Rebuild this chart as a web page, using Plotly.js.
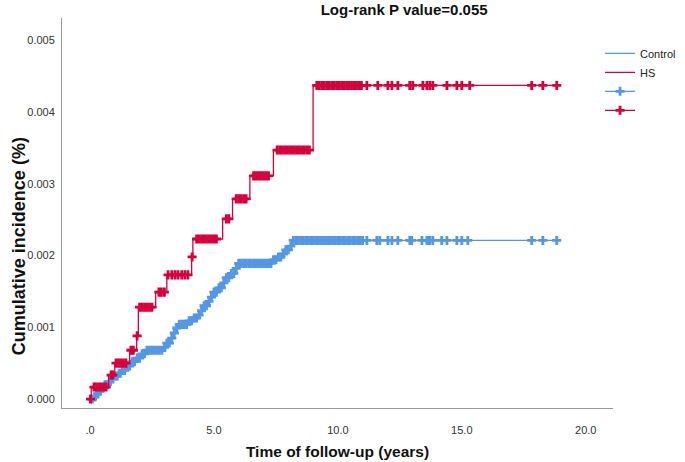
<!DOCTYPE html>
<html>
<head>
<meta charset="utf-8">
<script src="https://cdn.plot.ly/plotly-3.0.1.min.js"></script>
<style>html,body{margin:0;padding:0;background:#fff;}#chart{width:685px;height:462px;}</style>
</head>
<body>
<div id="chart"></div>
<script>
// ---- Data (time in years, cumulative incidence as fraction) ----
var groupNames = ["Control", "HS"];

// Control: step times and levels after each step
var controlTimes = [0, 0.12, 0.24, 0.36, 0.48, 0.60, 0.73, 0.85, 0.97, 1.13, 1.29, 1.45, 1.61, 1.81, 2.02, 2.22,
  2.94, 3.10, 3.23, 3.35, 3.47, 3.59, 3.91, 4.11, 4.31, 4.48, 4.60, 4.72, 4.84, 5.00, 5.16, 5.32, 5.48, 5.65, 5.81, 5.97,
  7.34, 7.54, 7.74, 7.90, 8.02, 8.15, 18.83];
var controlLevels = [0, 0.00003, 0.00007, 0.00011, 0.00015, 0.00020, 0.00024, 0.00028, 0.00032, 0.00036, 0.00040, 0.00046, 0.00052, 0.00057, 0.00063, 0.00068,
  0.00072, 0.00078, 0.00085, 0.00092, 0.00099, 0.00104, 0.00109, 0.00113, 0.00117, 0.00123, 0.00130, 0.00136, 0.00142, 0.00149, 0.00155, 0.00162, 0.00169, 0.00175, 0.00182, 0.00189,
  0.00194, 0.00198, 0.00202, 0.00208, 0.00213, 0.00221, 0.00221];

// HS: step times and levels after each step
var hsTimes = [0, 0.05, 0.75, 1.00, 1.60, 1.88, 1.95, 2.65, 3.10, 4.10, 4.15, 5.35, 5.75, 6.45, 7.40, 9.00, 18.83];
var hsLevels = [0, 0.000167, 0.000334, 0.00050, 0.00068, 0.00088, 0.00128, 0.00149, 0.00173, 0.00198, 0.00223, 0.00251, 0.00279, 0.00311, 0.00347, 0.00437, 0.00437];

// Censoring times
var controlCensor = [0.10,0.20,0.30,0.40,0.50,0.60,0.70,0.80,0.90,1.00,1.10,1.20,1.30,1.40,1.50,1.60,1.70,1.80,1.90,2.00,
  2.10,2.20,2.30,2.40,2.50,2.60,2.70,2.80,2.90,3.00,3.10,3.20,3.30,3.40,3.50,3.60,3.70,3.80,3.90,4.00,
  4.10,4.20,4.30,4.40,4.50,4.60,4.70,4.80,4.90,5.00,5.10,5.20,5.30,5.40,5.50,5.60,5.70,5.80,5.90,6.00,
  6.10,6.20,6.30,6.40,6.50,6.60,6.70,6.80,6.90,7.00,7.10,7.20,7.30,7.40,7.50,7.60,7.70,7.80,7.90,8.00,
  8.10,8.20,8.30,8.40,8.50,8.60,8.70,8.80,8.90,9.00,9.10,9.20,9.30,9.40,9.50,9.60,9.70,9.80,9.90,10.00,
  10.10,10.20,10.30,10.40,10.50,10.60,10.70,10.80,10.90,11.00,
  11.17,11.57,11.69,12.02,12.18,12.42,12.90,12.98,13.39,13.59,13.63,13.71,13.83,14.19,14.40,14.80,15.00,15.24,17.82,18.27,18.83];
var hsCensor = [0.02,
  0.16,0.25,0.35,0.45,0.55,0.65,
  0.85,0.92,
  1.05,1.15,1.25,1.35,1.45,
  1.65,1.75,
  1.90,
  2.00,2.10,2.20,2.30,2.40,2.50,
  2.78,2.88,3.00,
  3.15,3.30,3.43,3.55,3.70,3.83,3.95,
  4.12,
  4.30,4.40,4.50,4.60,4.70,4.80,4.90,5.00,5.10,
  5.50,5.60,
  5.90,6.00,6.10,6.20,6.30,
  6.60,6.70,6.80,6.90,7.00,7.10,7.20,
  7.55,7.65,7.75,7.85,7.95,8.05,8.15,8.25,8.35,8.45,8.55,8.65,8.75,8.85,
  9.15,9.25,9.35,9.45,9.55,9.65,9.75,9.85,9.95,10.05,10.15,10.25,10.35,10.45,10.55,10.65,10.75,10.85,10.95,
  11.17,11.61,12.02,12.18,12.42,12.90,13.02,13.43,13.59,13.71,13.83,14.40,14.80,15.00,15.32,17.82,18.27,18.83];

var xTickVals = [0, 5, 10, 15, 20];
var xTickText = [".0", "5.0", "10.0", "15.0", "20.0"];
var yTickVals = [0, 0.001, 0.002, 0.003, 0.004, 0.005];
var yTickText = ["0.000", "0.001", "0.002", "0.003", "0.004", "0.005"];

var titleText = "Log-rank P value=0.055";
var xTitle = "Time of follow-up (years)";
var yTitle = "Cumulative incidence (%)";

// ---- helpers ----
function levelAt(times, levels, t) {
  var v = levels[0];
  for (var i = 0; i < times.length; i++) { if (times[i] <= t) v = levels[i]; }
  return v;
}
function censorXY(ct, times, levels) {
  var xs = [], ys = [];
  ct.forEach(function (t) { xs.push(t, null); ys.push(levelAt(times, levels, t), null); });
  return { x: xs, y: ys };
}

var BLUE = "#5397e6", RED = "#d8003a";
var FONT = "Liberation Sans, Arial, sans-serif";

var cC = censorXY(controlCensor, controlTimes, controlLevels);
var hC = censorXY(hsCensor, hsTimes, hsLevels);

var traces = [
  { x: controlTimes, y: controlLevels, type: "scatter", mode: "lines", name: groupNames[0],
    line: { shape: "hv", color: BLUE, width: 1.3 }, legendrank: 1, hoverinfo: "skip" },
  { x: cC.x, y: cC.y, type: "scatter", mode: "lines+markers", name: " ", connectgaps: false,
    line: { color: BLUE, width: 1.3 },
    marker: { symbol: "cross-thin", size: 6.5, color: BLUE, line: { color: BLUE, width: 2.8 } },
    legendrank: 3, hoverinfo: "skip" },
  { x: hsTimes, y: hsLevels, type: "scatter", mode: "lines", name: groupNames[1],
    line: { shape: "hv", color: RED, width: 1.3 }, legendrank: 2, hoverinfo: "skip" },
  { x: hC.x, y: hC.y, type: "scatter", mode: "lines+markers", name: "  ", connectgaps: false,
    line: { color: RED, width: 1.3 },
    marker: { symbol: "cross-thin", size: 6.5, color: RED, line: { color: RED, width: 2.8 } },
    legendrank: 4, hoverinfo: "skip" }
];

var layout = {
  width: 685, height: 462,
  margin: { l: 62, r: 72, t: 18, b: 54, autoexpand: false },
  paper_bgcolor: "#fff", plot_bgcolor: "#fff",
  font: { family: FONT, size: 11, color: "#333" },
  title: { text: "<b>" + titleText + "</b>", font: { family: FONT, size: 15, color: "#111" },
    xref: "container", x: 0.59, xanchor: "center", yref: "container", y: 0.978, yanchor: "middle" },
  xaxis: { range: [-1.13, 21.1], showline: true, linecolor: "#9a9a9a", linewidth: 1, mirror: false,
    showgrid: false, zeroline: false, ticks: "", tickvals: xTickVals, ticktext: xTickText,
    ticklabelstandoff: 12, tickfont: { family: FONT, size: 11, color: "#333" },
    title: { text: "<b>" + xTitle + "</b>", font: { family: FONT, size: 15.5, color: "#111" }, standoff: 10 } },
  yaxis: { range: [-0.000125, 0.00531], showline: true, linecolor: "#9a9a9a", linewidth: 1,
    showgrid: false, zeroline: false, ticks: "", tickvals: yTickVals, ticktext: yTickText,
    ticklabelstandoff: 4, tickfont: { family: FONT, size: 11, color: "#333" } },
  annotations: [
    { text: "<b>" + yTitle + "</b>", xref: "paper", yref: "paper", x: -0.078, y: 0.415,
      xanchor: "center", yanchor: "middle", textangle: -90, showarrow: false,
      font: { family: FONT, size: 18, color: "#111" } }
  ],
  legend: { xref: "container", yref: "container", x: 0.876, xanchor: "left", y: 0.916, yanchor: "top",
    bgcolor: "rgba(0,0,0,0)",
    font: { family: FONT, size: 11, color: "#222" }, tracegroupgap: 0, itemwidth: 30 },
  showlegend: true
};

Plotly.newPlot("chart", traces, layout, { displayModeBar: false, staticPlot: true });
</script>
</body>
</html>
